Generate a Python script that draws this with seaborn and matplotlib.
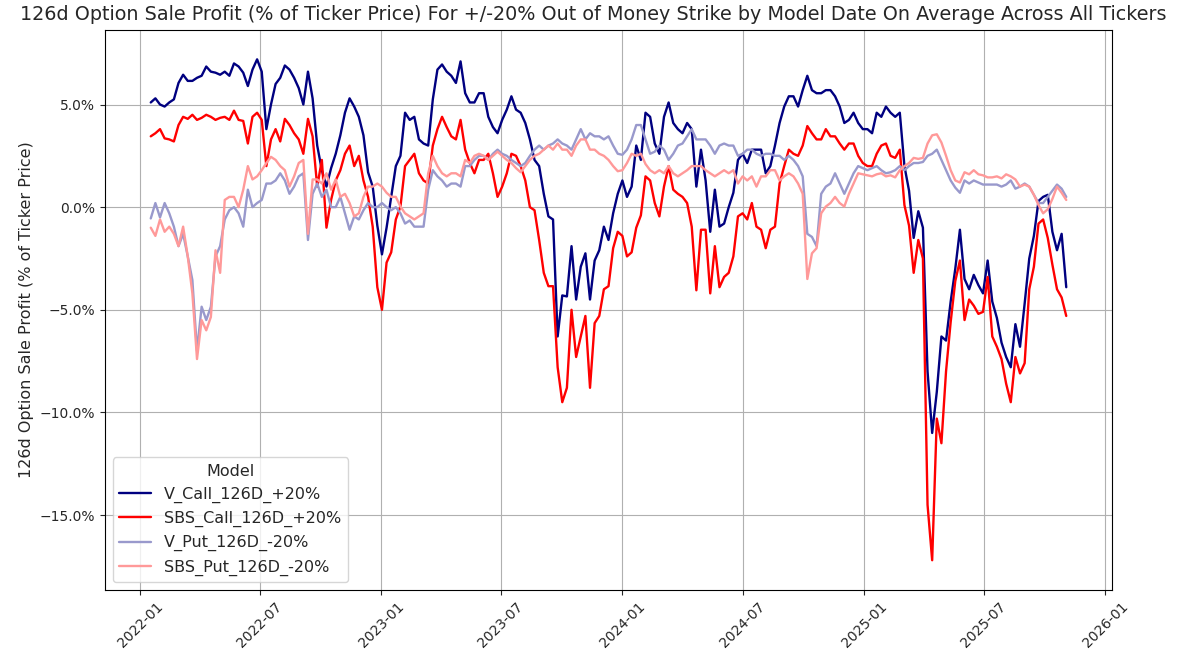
import matplotlib
matplotlib.use("Agg")
import matplotlib.pyplot as plt
import matplotlib.dates as mdates
from matplotlib.ticker import PercentFormatter, MultipleLocator
import numpy as np
import pandas as pd
import seaborn as sns

# Weekly model dates
dates = pd.date_range("2022-01-17", periods=199, freq="7D")

models = ["V_Call_126D_+20%", "SBS_Call_126D_+20%", "V_Put_126D_-20%", "SBS_Put_126D_-20%"]

# Average option sale profit, % of ticker price
v_call = [
    5.1, 5.3, 5.0, 4.9, 5.1, 5.25, 6.05, 6.45, 6.15, 6.15,
    6.3, 6.4, 6.85, 6.6, 6.55, 6.45, 6.6, 6.4, 7.0, 6.85,
    6.55, 5.9, 6.7, 7.2, 6.6, 3.8, 5.0, 6.0, 6.3, 6.9,
    6.7, 6.3, 5.8, 5.0, 6.6, 5.3, 3.0, 1.8, 1.0, 1.9,
    2.6, 3.5, 4.6, 5.3, 4.9, 4.4, 3.5, 1.7, 1.0, -0.9,
    -2.3, -1.0, 0.5, 2.0, 2.5, 4.6, 4.25, 4.4, 3.3, 3.1,
    3.0, 5.25, 6.7, 6.95, 6.6, 6.4, 6.05, 7.1, 5.55, 5.1,
    5.1, 5.55, 5.55, 4.4, 3.9, 3.6, 4.25, 4.75, 5.4, 4.75,
    4.6, 4.1, 3.3, 2.3, 2.0, 0.65, -0.45, -0.6, -6.3, -4.3,
    -4.35, -1.9, -4.5, -2.9, -2.25, -4.5, -2.6, -2.1, -0.95, -1.6,
    -0.3, 0.65, 1.3, 0.5, 1.0, 3.0, 2.3, 4.6, 4.4, 3.1,
    2.6, 4.4, 5.1, 4.1, 3.8, 3.6, 4.1, 3.8, 1.0, 2.8,
    1.3, -1.2, 0.85, -0.95, -0.8, 0.0, 0.7, 2.3, 2.6, 2.15,
    2.8, 2.8, 2.8, 1.65, 2.0, 3.0, 4.1, 4.9, 5.4, 5.4,
    4.9, 5.7, 6.4, 5.7, 5.55, 5.55, 5.7, 5.7, 5.4, 4.9,
    4.1, 4.25, 4.6, 4.1, 3.8, 3.8, 3.6, 4.6, 4.4, 4.9,
    4.6, 4.4, 4.6, 2.0, 0.8, -1.5, -0.2, -1.0, -8.0, -11.0,
    -9.0, -6.3, -6.5, -4.6, -3.0, -1.1, -3.5, -4.0, -3.3, -3.8,
    -4.2, -2.6, -4.6, -5.4, -6.6, -7.3, -7.8, -5.7, -6.8, -4.7,
    -2.5, -1.4, 0.3, 0.5, 0.6, -1.2, -2.1, -1.3, -3.9,
]

sbs_call = [
    3.45, 3.6, 3.8, 3.35, 3.3, 3.2, 4.0, 4.4, 4.3, 4.5,
    4.25, 4.35, 4.5, 4.4, 4.25, 4.35, 4.4, 4.25, 4.7, 4.25,
    4.2, 3.1, 4.4, 4.6, 4.25, 2.0, 3.3, 3.8, 3.2, 4.3,
    4.0, 3.6, 3.3, 2.6, 4.3, 3.45, 1.0, 2.3, -1.0, 0.35,
    1.3, 1.8, 2.6, 3.0, 2.0, 2.5, 1.3, 0.5, -0.95, -3.9,
    -5.0, -2.7, -2.2, -0.6, 0.03, 2.0, 2.3, 2.6, 1.65, 1.3,
    1.15, 3.0, 3.8, 4.4, 3.9, 3.45, 3.3, 4.25, 2.8, 2.15,
    1.65, 2.3, 2.3, 2.6, 1.65, 0.5, 1.0, 1.65, 2.6, 2.5,
    2.0, 1.3, 0.0, -0.15, -1.6, -3.2, -3.85, -3.85, -7.8, -9.5,
    -8.8, -5.0, -7.3, -6.3, -5.3, -8.8, -5.65, -5.3, -4.0, -3.85,
    -2.0, -1.2, -1.4, -2.4, -2.2, -1.0, -0.4, 1.5, 1.3, 0.2,
    -0.45, 1.0, 2.0, 0.85, 0.65, 0.5, 0.2, -0.95, -4.05, -1.1,
    -1.1, -4.2, -1.9, -3.9, -3.4, -3.2, -2.4, -0.45, -0.3, -0.6,
    0.2, -0.95, -1.1, -2.0, -1.1, -0.95, 1.15, 2.0, 2.8, 2.6,
    2.5, 3.0, 3.95, 3.6, 3.3, 3.3, 3.8, 3.45, 3.45, 3.1,
    2.8, 3.1, 3.1, 2.5, 2.15, 2.0, 2.0, 2.6, 3.0, 3.1,
    2.5, 2.4, 2.8, 0.1, -0.9, -3.2, -1.6, -2.5, -14.5, -17.2,
    -10.3, -11.5, -8.0, -5.6, -3.6, -2.6, -5.5, -4.5, -4.8, -5.2,
    -5.1, -3.4, -6.3, -6.8, -7.4, -8.6, -9.5, -7.3, -8.1, -7.6,
    -4.0, -2.9, -0.8, -0.6, -1.5, -2.8, -4.0, -4.4, -5.3,
]

v_put = [
    -0.55, 0.2, -0.5, 0.2, -0.3, -0.95, -1.9, -1.3, -2.4, -3.55,
    -7.0, -4.85, -5.5, -4.85, -2.4, -1.9, -0.6, -0.15, 0.0, -0.3,
    -0.95, 0.85, 0.0, 0.2, 0.35, 1.15, 1.15, 1.3, 1.65, 1.3,
    0.65, 1.0, 1.5, 1.65, -1.6, 0.65, 1.15, 0.5, 0.85, 0.0,
    0.0, 0.5, -0.3, -1.1, -0.45, -0.6, -0.15, 0.2, 0.0, 0.0,
    0.2, 0.0, -0.15, 0.0, -0.3, -0.8, -0.65, -0.95, -0.95, -0.95,
    0.85, 1.8, 1.5, 1.3, 1.0, 1.15, 1.15, 1.0, 2.0, 2.0,
    2.3, 2.5, 2.5, 2.3, 2.6, 2.8, 2.6, 2.5, 2.3, 2.15,
    2.0, 2.15, 2.5, 2.8, 3.0, 2.8, 3.0, 3.1, 3.3, 3.1,
    3.0, 2.8, 3.3, 3.8, 3.3, 3.6, 3.45, 3.45, 3.3, 3.45,
    3.0, 2.6, 2.55, 2.8, 3.3, 4.0, 4.0, 3.3, 2.6, 2.7,
    3.0, 2.8, 2.3, 2.6, 3.0, 3.1, 3.45, 3.8, 3.3, 3.3,
    3.3, 3.0, 2.6, 3.0, 3.1, 3.0, 3.0, 2.5, 2.6, 2.8,
    2.8, 2.6, 2.5, 2.6, 2.6, 2.5, 2.5, 2.3, 2.5, 2.3,
    2.0, 1.5, -1.3, -1.45, -1.9, 0.65, 1.0, 1.15, 1.65, 1.15,
    0.65, 1.15, 1.65, 2.0, 1.9, 1.8, 1.9, 2.0, 1.8, 1.65,
    1.7, 1.8, 2.0, 1.8, 2.0, 2.15, 2.15, 2.2, 2.5, 2.6,
    2.8, 2.3, 1.8, 1.3, 0.95, 0.7, 1.3, 1.15, 1.3, 1.2,
    1.1, 1.1, 1.1, 1.1, 1.0, 1.1, 1.3, 0.9, 1.0, 1.15,
    1.0, 0.6, 0.2, 0.2, 0.5, 0.8, 1.1, 0.9, 0.5,
]

sbs_put = [
    -1.0, -1.4, -0.6, -1.2, -0.95, -1.3, -1.9, -0.95, -2.4, -4.2,
    -7.4, -5.5, -6.0, -5.35, -2.1, -3.2, 0.35, 0.5, 0.5, 0.0,
    0.85, 2.0, 1.35, 1.5, 1.8, 2.15, 2.45, 2.3, 2.0, 1.8,
    1.0, 1.5, 2.15, 2.3, -1.3, 1.35, 1.35, 1.15, 1.65, 0.85,
    1.35, 0.5, 0.65, 0.2, -0.45, -0.3, 0.5, 1.0, 1.0, 1.15,
    1.0, 0.7, 0.5, 0.5, 0.03, -0.3, -0.45, -0.6, -0.45, -0.3,
    1.65, 2.5, 2.0, 1.65, 1.5, 1.65, 1.65, 1.5, 2.3, 2.15,
    2.5, 2.6, 2.5, 2.3, 2.5, 2.7, 2.5, 2.3, 2.15, 1.9,
    1.7, 2.0, 2.3, 2.5, 2.6, 2.8, 3.0, 2.8, 3.1, 2.8,
    2.8, 2.5, 3.0, 3.3, 3.3, 2.8, 2.8, 2.6, 2.5, 2.3,
    2.0, 1.75, 1.8, 2.15, 2.6, 2.5, 2.6, 2.1, 1.8, 1.65,
    1.8, 1.65, 2.0, 1.65, 1.5, 1.65, 1.8, 2.0, 2.0, 2.0,
    1.8, 1.65, 1.5, 1.65, 1.8, 1.65, 1.8, 1.15, 1.5, 1.3,
    1.5, 1.0, 1.5, 1.5, 1.8, 1.8, 1.3, 1.5, 1.65, 1.5,
    1.15, 0.65, -3.5, -2.25, -2.0, -0.3, 0.03, 0.2, 0.5, 0.2,
    0.03, 0.65, 1.15, 1.65, 1.6, 1.55, 1.5, 1.6, 1.65, 1.5,
    1.55, 1.45, 1.8, 2.0, 2.15, 2.4, 2.35, 2.4, 3.1, 3.5,
    3.55, 3.15, 2.5, 1.8, 1.3, 1.2, 1.7, 1.6, 1.8, 1.6,
    1.55, 1.45, 1.45, 1.5, 1.4, 1.6, 1.5, 1.35, 1.0, 1.1,
    1.0, 0.6, 0.1, -0.3, -0.1, 0.4, 1.0, 0.7, 0.35,
]

colors = ["#000080", "#FF0000", "#9999CC", "#FF9999"]

frames = []
for name, vals in zip(models, [v_call, sbs_call, v_put, sbs_put]):
    frames.append(pd.DataFrame({"Date": dates, "Profit": vals, "Model": name}))
df = pd.concat(frames, ignore_index=True)

sns.set_style("white")
plt.rcParams["font.family"] = ["DejaVu Sans"]

fig = plt.figure(figsize=(11.81, 6.59), dpi=100)
ax = fig.add_axes([0.0889, 0.1047, 0.8527, 0.8498])

sns.lineplot(data=df, x="Date", y="Profit", hue="Model", hue_order=models,
             palette=dict(zip(models, colors)), linewidth=1.7, ax=ax)

ax.set_ylim(-18.65, 8.63)
ax.yaxis.set_major_locator(MultipleLocator(5))
ax.yaxis.set_major_formatter(PercentFormatter(xmax=100, decimals=1))
ax.xaxis.set_major_locator(mdates.MonthLocator(bymonth=[1, 7]))
ax.xaxis.set_major_formatter(mdates.DateFormatter("%Y-%m"))
plt.setp(ax.get_xticklabels(), rotation=45)
ax.tick_params(axis="both", which="major", length=3.5, width=0.8, labelsize=10,
               bottom=True, left=True)
for s in ax.spines.values():
    s.set_color("black")
    s.set_linewidth(0.8)
ax.grid(True, color="#b0b0b0", linewidth=0.8)
ax.set_axisbelow(True)

ax.set_xlabel("")
ax.set_ylabel("126d Option Sale Profit (% of Ticker Price)", fontsize=11.5)
fig.suptitle("126d Option Sale Profit (% of Ticker Price) For +/-20% Out of Money Strike "
             "by Model Date On Average Across All Tickers",
             x=593 / 1181, y=0.992, fontsize=13.8)

leg = ax.legend(title="Model", loc="lower left", fontsize=11.5, title_fontsize=11.5)

fig.savefig("out.png", dpi=100)
